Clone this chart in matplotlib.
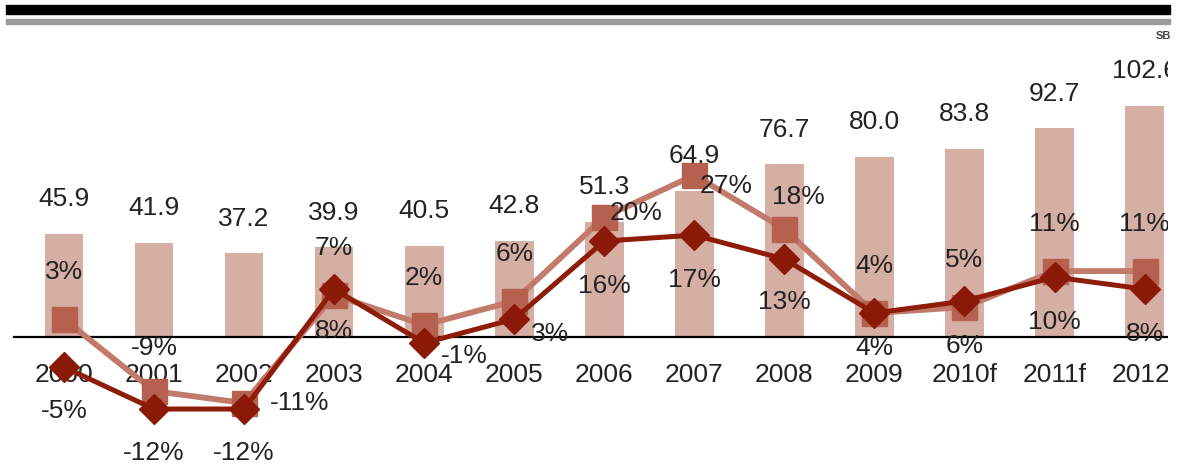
import matplotlib.pyplot as plt
from matplotlib.patches import Rectangle

# data
years = ['2000', '2001', '2002', '2003', '2004', '2005', '2006',
         '2007', '2008', '2009', '2010f', '2011f', '2012f']
totals = [45.9, 41.9, 37.2, 39.9, 40.5, 42.8, 51.3,
          64.9, 76.7, 80.0, 83.8, 92.7, 102.6]
growth_sq = [3, -9, -11, 7, 2, 6, 20, 27, 18, 4, 5, 11, 11]
growth_dm = [-5, -12, -12, 8, -1, 3, 16, 17, 13, 4, 6, 10, 8]

plt.rcParams['font.family'] = ['Liberation Sans', 'DejaVu Sans']

W, H = 1181, 466
fig = plt.figure(figsize=(W / 100, H / 100), dpi=100)

# plot area is clipped at the right, like the source picture
axW = 1168
ax = fig.add_axes([0, 0, axW / W, 1])
ax2 = ax.twinx()

barColor = '#d5aea4'
sqLine = '#c27a6b'
sqMark = '#b6614f'
dmLine = '#8e1c09'
dmMark = '#8a1a07'
textColor = '#222222'
fs = 19

x = list(range(len(years)))
ax.bar(x, totals, width=0.43, color=barColor, zorder=1)
ax.axhline(0, xmin=14 / axW, color='black', lw=1.6, zorder=2)

ax2.plot(x, growth_sq, color=sqLine, lw=4.2, marker='s', ms=18,
         mfc=sqMark, mec=sqMark, zorder=3)
ax2.plot(x, growth_dm, color=dmLine, lw=3.6, marker='D', ms=15,
         mfc=dmMark, mec=dmMark, zorder=4)

ax.set_xlim(-0.71, 12.26)
ax.set_ylim(-57.3, 149.8)
ax2.set_ylim(-21.5, 56.2)
ax.axis('off')
ax2.axis('off')

# value labels above bars and year labels below the zero line
for i in x:
    ax.annotate('%.1f' % totals[i], (i, totals[i]), xytext=(0, 25),
                textcoords='offset points', ha='center', va='center',
                fontsize=fs, color=textColor, clip_on=True)
    ax.annotate(years[i], (i, 0), xytext=(0, -27.5),
                textcoords='offset points', ha='center', va='center',
                fontsize=fs, color=textColor, clip_on=True)

# percentage labels, offsets in points (most sit above / below the marker)
sqOffsets = {1: (0, 31), 2: (40, 0), 6: (23, 3), 7: (23, -8), 8: (10, 23)}
dmOffsets = {3: (0, -30), 4: (29, -9), 5: (26, -11), 8: (0, -31), 9: (0, -25)}
for i in x:
    dx, dy = sqOffsets.get(i, (0, 34))
    ax2.annotate('%d%%' % growth_sq[i], (i, growth_sq[i]), xytext=(dx, dy),
                 textcoords='offset points', ha='center', va='center',
                 fontsize=fs, color=textColor, clip_on=True, zorder=5)
    dx, dy = dmOffsets.get(i, (0, -32))
    ax2.annotate('%d%%' % growth_dm[i], (i, growth_dm[i]), xytext=(dx, dy),
                 textcoords='offset points', ha='center', va='center',
                 fontsize=fs, color=textColor, clip_on=True, zorder=5)

# header rules at the top of the page
fig.patches.append(Rectangle((6 / W, 1 - 14 / H), 1164 / W, 9 / H,
                             transform=fig.transFigure, color='black'))
fig.patches.append(Rectangle((6 / W, 1 - 24 / H), 1164 / W, 5 / H,
                             transform=fig.transFigure, color='#9a9a9a'))
fig.text(1156 / W, 1 - 36 / H, 'SB', fontsize=8, color='#444444',
         ha='left', va='center', fontweight='bold')

fig.savefig('out.png', dpi=100)
